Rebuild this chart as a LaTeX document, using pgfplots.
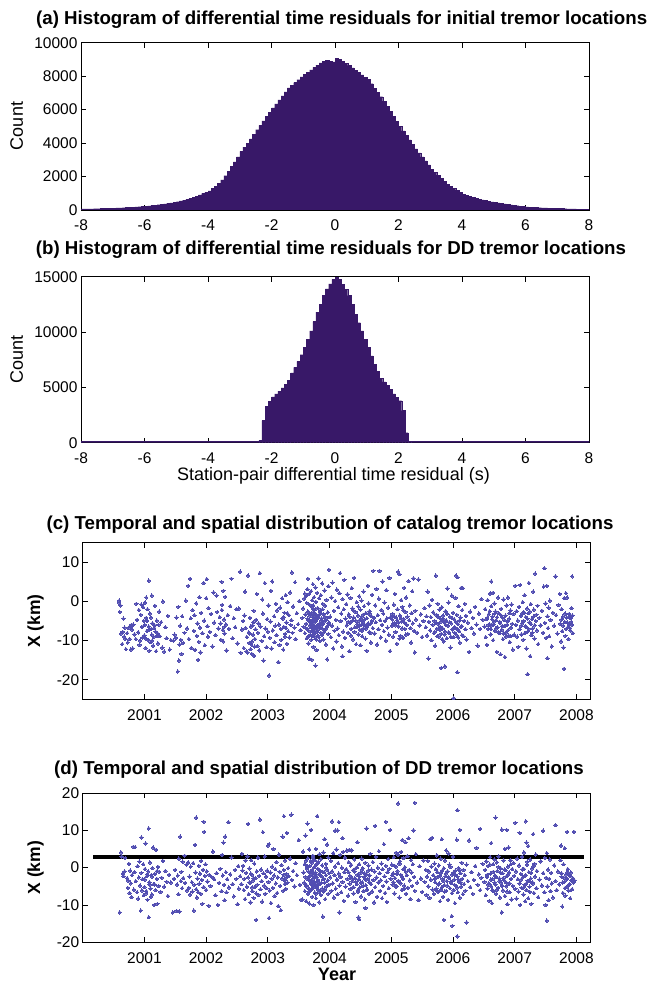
\documentclass[border=0pt]{standalone}
\usepackage{fontspec}
\setmainfont{Liberation Sans}
\usepackage{pgfplots}
\pgfplotsset{compat=1.18}
\definecolor{histcol}{RGB}{56,24,104}
\definecolor{dotcol}{RGB}{82,78,178}
\pgfplotsset{
  myax/.style={scale only axis, anchor=south west,
    axis line style={line width=0.9pt, black},
    every tick/.style={line width=0.8pt, black},
    tick align=inside, major tick length=5pt,
    /pgf/number format/assume math mode=true,
    /pgf/number format/1000 sep={},
    scaled ticks=false,
    ticklabel style={font=\fontsize{15.5}{18}\selectfont},
    xticklabel style={yshift=-6.5pt},
    clip=true},
  dots/.style={color=dotcol, only marks, mark=*, mark size=1.7pt, mark options={solid, draw=dotcol, fill=dotcol, line width=0pt}},
}
\begin{document}
\begin{tikzpicture}
\useasboundingbox (0pt,0pt) rectangle (650pt,985pt);
% ---------------- (a)
\begin{axis}[myax, at={(81pt,775pt)}, width=508pt, height=167.3pt,
  xmin=-8, xmax=8, ymin=0, ymax=10000,
  xtick={-8,-6,...,8}, ytick={0,2000,...,10000}]
\addplot[ybar interval, fill=histcol, draw=histcol, line width=0.2pt] coordinates {
(-8.0,60) (-7.9,62) (-7.8,65) (-7.7,70) (-7.6,75) (-7.5,80) (-7.4,85) (-7.3,92) (-7.2,98) (-7.1,104)
(-7.0,110) (-6.9,120) (-6.8,130) (-6.7,140) (-6.6,150) (-6.5,160) (-6.4,172) (-6.3,186) (-6.2,200) (-6.1,215)
(-6.0,230) (-5.9,250) (-5.8,272) (-5.7,295) (-5.6,318) (-5.5,340) (-5.4,370) (-5.3,400) (-5.2,432) (-5.1,465)
(-5.0,500) (-4.9,545) (-4.8,595) (-4.7,645) (-4.6,700) (-4.5,760) (-4.4,830) (-4.3,910) (-4.2,990) (-4.1,1070)
(-4.0,1150) (-3.9,1280) (-3.8,1420) (-3.7,1580) (-3.6,1800) (-3.5,2050) (-3.4,2330) (-3.3,2600) (-3.2,2880) (-3.1,3180)
(-3.0,3500) (-2.9,3760) (-2.8,4000) (-2.7,4250) (-2.6,4520) (-2.5,4800) (-2.4,5060) (-2.3,5330) (-2.2,5590) (-2.1,5850)
(-2.0,6100) (-1.9,6340) (-1.8,6580) (-1.7,6820) (-1.6,7060) (-1.5,7300) (-1.4,7460) (-1.3,7620) (-1.2,7790) (-1.1,7950)
(-1.0,8100) (-0.9,8240) (-0.8,8380) (-0.7,8520) (-0.6,8660) (-0.5,8800) (-0.4,8880) (-0.3,8950) (-0.2,8900) (-0.1,8850)
(0.0,9050) (0.1,9000) (0.2,8900) (0.3,8780) (0.4,8640) (0.5,8500) (0.6,8360) (0.7,8220) (0.8,8080) (0.9,7940)
(1.0,7800) (1.1,7550) (1.2,7290) (1.3,7030) (1.4,6770) (1.5,6500) (1.6,6200) (1.7,5900) (1.8,5600) (1.9,5300)
(2.0,5000) (2.1,4730) (2.2,4460) (2.3,4190) (2.4,3920) (2.5,3650) (2.6,3410) (2.7,3170) (2.8,2930) (2.9,2690)
(3.0,2450) (3.1,2270) (3.2,2090) (3.3,1910) (3.4,1730) (3.5,1550) (3.6,1430) (3.7,1310) (3.8,1190) (3.9,1070)
(4.0,950) (4.1,890) (4.2,830) (4.3,770) (4.4,710) (4.5,650) (4.6,610) (4.7,570) (4.8,530) (4.9,490)
(5.0,450) (5.1,420) (5.2,390) (5.3,360) (5.4,330) (5.5,300) (5.6,278) (5.7,256) (5.8,234) (5.9,212)
(6.0,190) (6.1,178) (6.2,166) (6.3,154) (6.4,142) (6.5,130) (6.6,122) (6.7,114) (6.8,106) (6.9,98)
(7.0,90) (7.1,84) (7.2,78) (7.3,72) (7.4,66) (7.5,60) (7.6,56) (7.7,52) (7.8,48) (7.9,44) (8.0,44)};
\end{axis}
% ---------------- (b)
\begin{axis}[myax, at={(81pt,542.3pt)}, width=508pt, height=166pt,
  xmin=-8, xmax=8, ymin=0, ymax=15000,
  xtick={-8,-6,...,8}, ytick={0,5000,10000,15000}]
\addplot[ybar interval, fill=histcol, draw=histcol, line width=0.2pt] coordinates {
(-8.0,100) (-2.4,200) (-2.3,2000) (-2.2,3300) (-2.1,3750)
(-2.0,4150) (-1.9,4400) (-1.8,4650) (-1.7,4950) (-1.6,5250) (-1.5,5650) (-1.4,6300) (-1.3,6800) (-1.2,7350) (-1.1,7950)
(-1.0,8600) (-0.9,9350) (-0.8,10100) (-0.7,10950) (-0.6,11800) (-0.5,12500) (-0.4,13300) (-0.3,13900) (-0.2,14350) (-0.1,14750)
(0.0,14950) (0.1,14750) (0.2,14300) (0.3,13850) (0.4,13300) (0.5,12500) (0.6,11600) (0.7,10850) (0.8,10100) (0.9,9350)
(1.0,8600) (1.1,7850) (1.2,7100) (1.3,6450) (1.4,5800) (1.5,5500) (1.6,5200) (1.7,4800) (1.8,4400) (1.9,4100)
(2.0,3800) (2.1,2900) (2.2,900) (2.3,150) (2.4,100) (8.0,100)};
\end{axis}
% ---------------- (c)
\begin{axis}[myax, at={(82.7pt,285.7pt)}, width=507.3pt, height=156.6pt,
  xmin=2000.0, xmax=2008.22, ymin=-25, ymax=15,
  xtick={2001,...,2008}, ytick={-20,-10,0,10}]
\addplot[dots] coordinates {
(2000.59,0.2) (2000.59,-0.3) (2000.60,-2.7) (2000.62,-8.2) (2000.64,-10.9) (2000.66,-4.4) (2000.67,-9.0) (2000.68,-6.7) (2000.69,-9.5) (2000.70,-12.2) (2000.61,-1.0) (2000.65,-7.8)
(2000.72,-8.1) (2000.73,-10.5) (2000.74,-6.8) (2000.76,-9.6) (2000.77,-6.3) (2000.78,-12.3) (2000.79,-6.0) (2000.80,-7.2) (2000.81,-12.0) (2000.82,-5.9) (2000.84,-8.4) (2000.86,-9.6) (2000.88,-4.7) (2000.90,-7.9) (2000.92,-11.1) (2000.93,-10.0) (2000.94,-3.4) (2000.95,-0.8) (2000.96,-6.5) (2000.97,-9.2) (2000.98,-1.5) (2000.99,-5.0) (2001.00,-8.7) (2001.01,-0.3) (2001.02,-11.9) (2001.03,-4.2) (2001.04,-7.6) (2001.05,-2.0) (2001.06,-9.8) (2001.07,5.3) (2001.07,-6.4) (2001.08,-12.6) (2001.09,-3.1) (2001.10,-10.4) (2001.11,-7.0) (2001.12,1.5) (2001.12,-8.5) (2001.13,-5.6) (2001.14,-11.3) (2001.15,-9.0) (2001.16,-6.8) (2001.17,-1.1) (2001.18,-7.7) (2001.19,-12.7) (2001.20,-4.9) (2001.21,-8.1) (2001.22,-10.7) (2001.23,-6.0) (2001.24,-2.6) (2001.25,-8.9) (2001.27,-5.3) (2001.29,-11.8) (2001.30,0.0) (2001.32,-12.8) (2001.34,-6.6) (2001.36,-9.4) (2001.38,-3.7) (2001.41,-12.3) (2001.43,-9.9) (2000.87,-0.6) (2000.91,-2.2) (2001.03,1.0)
(2001.47,-10.0) (2001.49,-8.5) (2001.51,-9.3) (2001.52,-4.1) (2001.54,-17.9) (2001.55,-1.4) (2001.56,-15.1) (2001.57,-11.0) (2001.58,-6.2) (2001.59,-9.8) (2001.60,-13.4) (2001.61,-3.8) (2001.63,-10.6) (2001.65,-8.0) (2001.67,0.2) (2001.69,-6.9)
(2001.71,4.0) (2001.72,-9.6) (2001.74,5.8) (2001.75,-4.3) (2001.76,-11.9) (2001.78,-2.2) (2001.80,-7.5) (2001.81,-3.5) (2001.82,-12.4) (2001.84,-0.5) (2001.85,-8.8) (2001.86,-5.6) (2001.87,-14.9) (2001.88,-10.3) (2001.89,1.1) (2001.90,-6.7) (2001.91,-13.0) (2001.92,-2.9) (2001.94,-8.1) (2001.96,4.7) (2001.97,-4.9) (2001.98,-11.2) (2002.00,0.8) (2002.01,5.7) (2002.02,-6.3) (2002.03,-9.0) (2002.04,-1.7) (2002.06,-7.8) (2002.08,-3.2) (2002.10,-11.5) (2002.12,2.3) (2002.13,-5.4) (2002.15,-8.6) (2002.17,1.5) (2002.18,-2.7) (2002.20,-6.9) (2002.22,-4.0) (2002.24,-9.8) (2002.25,5.0) (2002.26,-0.9) (2002.27,-7.3) (2002.28,2.7) (2002.29,-4.6) (2002.30,-8.2) (2002.31,1.2) (2002.32,-5.9) (2002.33,-12.5) (2002.35,-3.5) (2002.37,-7.0) (2002.39,-1.2) (2002.41,5.8) (2002.43,-9.4) (2002.45,-4.3) (2002.47,-6.6) (2002.49,-2.0)
(2002.51,-10.7) (2002.53,-1.8) (2002.55,7.6) (2002.56,-13.1) (2002.58,-7.2) (2002.60,-5.0) (2002.61,-11.9) (2002.62,-3.6) (2002.63,2.5) (2002.64,-6.8) (2002.65,-12.8) (2002.66,-9.1) (2002.67,-13.0) (2002.68,6.6) (2002.69,-7.9) (2002.70,-10.6) (2002.71,-4.2) (2002.72,-12.2) (2002.73,-11.0) (2002.74,-13.4) (2002.75,-6.1) (2002.76,-8.5) (2002.77,-2.4) (2002.78,-13.9) (2002.79,-9.6) (2002.80,-7.1) (2002.81,-4.7) (2002.82,1.9) (2002.83,-11.4) (2002.84,-8.0) (2002.85,-5.6) (2002.86,-12.5) (2002.87,7.2) (2002.88,-6.4) (2002.90,-10.1) (2002.91,0.5) (2002.92,-3.1) (2002.93,-15.1) (2002.94,-8.9) (2002.95,4.7) (2002.96,-6.9) (2002.98,-11.7) (2002.99,-4.5) (2003.00,-7.7) (2003.01,-1.0) (2003.02,-18.9) (2003.03,-9.3) (2003.04,-5.1) (2003.05,2.7) (2003.06,-12.0) (2003.07,5.1) (2003.08,-7.4) (2003.10,-3.8) (2003.11,-10.4) (2003.12,-6.2) (2003.13,-0.6) (2003.14,-8.6) (2003.15,-2.3) (2003.17,-15.5) (2003.18,-5.9) (2003.19,-11.1) (2003.20,-1.6) (2003.21,-7.0) (2003.22,-9.8) (2003.23,0.8) (2003.24,-4.4) (2003.25,-12.3) (2003.26,-6.5) (2003.27,-2.9) (2003.28,-8.3) (2003.29,1.6) (2003.30,-5.4) (2003.31,-10.8) (2003.32,-0.2) (2003.33,-7.6) (2003.34,-3.5) (2003.35,-9.2) (2003.36,2.3) (2003.37,-6.0) (2003.38,-4.8) (2003.39,7.4) (2003.40,-8.0) (2003.41,-1.3) (2003.43,-6.7) (2003.44,4.9) (2003.45,-9.6) (2003.47,-3.0) (2003.49,-5.8) (2003.51,0.1) (2003.53,-7.3)
(2003.56,-4.2) (2003.57,-1.8) (2003.58,-6.5) (2003.59,0.7) (2003.60,-8.1) (2003.60,2.0) (2003.61,-3.3) (2003.62,-5.7) (2003.62,1.4) (2003.63,-9.4) (2003.63,-0.4) (2003.64,3.1) (2003.64,-7.0) (2003.65,-2.6) (2003.65,5.8) (2003.66,-4.9) (2003.66,-10.7) (2003.67,-14.6) (2003.67,1.9) (2003.68,-6.1) (2003.68,-0.9) (2003.69,-3.7) (2003.69,-8.5) (2003.70,2.6) (2003.70,-5.3) (2003.71,-1.4) (2003.71,-14.9) (2003.72,0.3) (2003.72,-7.6) (2003.73,4.4) (2003.73,-4.0) (2003.74,-11.6) (2003.74,-2.1) (2003.75,1.1) (2003.75,-6.8) (2003.76,-3.0) (2003.76,-9.0) (2003.77,-16.4) (2003.77,3.6) (2003.78,-5.0) (2003.78,-0.1) (2003.79,-7.3) (2003.79,-12.4) (2003.80,2.2) (2003.80,-4.5) (2003.81,-8.7) (2003.81,-1.7) (2003.82,5.9) (2003.82,-6.0) (2003.83,-3.4) (2003.83,0.8) (2003.84,-10.1) (2003.84,-5.6) (2003.85,-2.3) (2003.86,-8.0) (2003.86,1.6) (2003.87,-4.3) (2003.88,-6.9) (2003.88,4.6) (2003.89,-0.6) (2003.90,-9.7) (2003.90,-3.2) (2003.91,-5.1) (2003.92,2.8) (2003.92,-7.4) (2003.93,-1.1) (2003.94,-11.0) (2003.94,-4.8) (2003.95,0.4) (2003.96,-6.4) (2003.96,-14.8) (2003.97,-2.8) (2003.98,3.9) (2003.98,-8.3) (2003.99,8.1) (2003.99,-5.4)
(2003.70,-6.6) (2003.72,-5.9) (2003.74,-7.1) (2003.76,-6.3) (2003.78,-4.0) (2003.80,-7.8) (2003.66,-7.5) (2003.68,-5.0) (2003.73,-8.9) (2003.75,-3.6)
(2004.01,-3.9) (2004.02,-9.1) (2004.03,1.0) (2004.04,-6.2) (2004.05,4.8) (2004.06,-12.0) (2004.07,-2.4) (2004.08,-7.5) (2004.09,0.1) (2004.10,-4.7) (2004.11,-10.2) (2004.12,3.0) (2004.13,-6.9) (2004.14,-1.5) (2004.15,-8.6) (2004.16,2.1) (2004.17,7.2) (2004.18,-5.0) (2004.19,-3.1) (2004.20,-11.5) (2004.21,-14.0) (2004.21,0.6) (2004.22,-7.7) (2004.23,-2.0) (2004.24,5.5) (2004.25,-9.3) (2004.26,-4.4) (2004.27,-0.7) (2004.28,-6.1) (2004.29,1.8) (2004.30,-8.0) (2004.31,-3.3) (2004.32,-12.7) (2004.33,-5.5) (2004.34,0.9) (2004.35,-7.0) (2004.36,3.4) (2004.37,-1.8) (2004.38,-9.7) (2004.39,-4.1) (2004.40,6.0) (2004.41,-6.6) (2004.42,-2.7) (2004.43,-10.9) (2004.44,-0.2) (2004.45,-5.8) (2004.46,-3.6) (2004.47,-8.4) (2004.48,1.3) (2004.48,-4.9) (2004.49,-7.2) (2004.50,-2.1) (2004.50,-11.2) (2004.51,-6.0) (2004.52,0.2) (2004.52,-3.9) (2004.53,-8.9) (2004.54,-5.2) (2004.55,2.5) (2004.55,-6.9) (2004.56,-1.2) (2004.57,-4.6) (2004.58,-9.5) (2004.59,-3.0) (2004.60,-12.6) (2004.61,-6.3) (2004.62,4.0) (2004.63,-0.5) (2004.64,-7.9) (2004.65,-2.5) (2004.66,-5.7) (2004.67,-10.5) (2004.68,-3.8) (2004.69,1.7) (2004.70,-6.8) (2004.71,7.8) (2004.72,-4.2) (2004.73,-8.2) (2004.74,-1.0) (2004.75,-5.3) (2004.76,3.2) (2004.77,-11.0) (2004.78,-3.5) (2004.79,-7.1) (2004.80,0.7) (2004.81,7.8) (2004.82,-4.8) (2004.83,-9.2) (2004.84,-2.2) (2004.85,-6.0) (2004.86,5.1) (2004.87,-3.1) (2004.88,-7.6) (2004.89,-0.3) (2004.90,-5.0) (2004.91,-10.0) (2004.92,2.9) (2004.93,-4.3) (2004.94,-6.7) (2004.95,-1.6) (2004.96,-8.5) (2004.97,6.0) (2004.98,-12.7) (2004.99,-4.0)
(2005.01,-6.2) (2005.02,-3.2) (2005.03,-9.0) (2005.04,-0.8) (2005.05,-5.5) (2005.06,1.9) (2005.07,-7.8) (2005.08,-4.1) (2005.09,-10.8) (2005.10,-2.0) (2005.11,7.6) (2005.12,-6.4) (2005.13,7.0) (2005.14,-3.6) (2005.15,-8.8) (2005.16,0.3) (2005.17,-5.1) (2005.18,-1.4) (2005.19,-9.3) (2005.20,-4.5) (2005.21,3.5) (2005.22,-7.0) (2005.23,-2.7) (2005.24,1.0) (2005.25,-6.0) (2005.26,-3.9) (2005.27,-8.3) (2005.28,5.2) (2005.29,-4.8) (2005.30,-1.0) (2005.31,-6.8) (2005.32,-10.5) (2005.33,-3.0) (2005.34,2.6) (2005.35,-5.6) (2005.36,5.9) (2005.37,-7.5) (2005.38,-13.0) (2005.39,-2.4) (2005.40,-4.6) (2005.42,-8.0) (2005.44,5.6) (2005.46,-6.1) (2005.48,-3.3) (2005.50,-9.1) (2005.52,-5.0) (2005.54,-1.7)
(2005.56,-6.6) (2005.57,-3.8) (2005.58,-8.7) (2005.59,2.5) (2005.60,-14.6) (2005.61,-5.2) (2005.62,-1.0) (2005.63,-7.4) (2005.64,-4.0) (2005.65,-9.9) (2005.66,0.4) (2005.67,-6.0) (2005.68,-2.8) (2005.69,-8.1) (2005.70,-5.0) (2005.71,-11.3) (2005.72,6.6) (2005.73,-3.4) (2005.74,-7.0) (2005.75,-0.6) (2005.76,-5.7) (2005.77,-9.0) (2005.78,-2.1) (2005.79,-6.5) (2005.80,-4.4) (2005.81,-17.0) (2005.81,-8.3) (2005.82,-1.5) (2005.83,-6.9) (2005.84,-3.6) (2005.85,-10.2) (2005.86,-5.3) (2005.87,-16.6) (2005.87,-7.7) (2005.88,-2.5) (2005.89,-4.8) (2005.90,-9.4) (2005.91,3.3) (2005.92,-6.2) (2005.93,-0.3) (2005.94,-8.0) (2005.95,-3.9) (2005.96,-11.8) (2005.97,-5.6) (2005.98,1.5) (2005.99,-7.2) (2006.00,-2.9) (2006.01,-24.7) (2006.01,-9.1) (2006.02,-4.6) (2006.03,-6.6) (2006.04,0.9) (2006.05,6.6) (2006.05,-8.4) (2006.06,-3.4) (2006.07,-18.1) (2006.07,6.2) (2006.08,-5.8) (2006.09,-1.2) (2006.10,-7.6) (2006.11,-10.5) (2006.12,-4.1) (2006.13,3.4) (2006.14,-6.3) (2006.15,-2.2) (2006.16,3.4) (2006.17,-8.9) (2006.18,-5.0) (2006.19,-0.6) (2006.20,-7.1) (2006.21,-3.7) (2006.22,-9.7) (2006.24,-5.4) (2006.26,-12.9) (2006.28,-2.6) (2006.30,-6.8) (2006.32,-4.2) (2006.34,-8.2) (2006.36,-1.4) (2006.38,-5.9) (2006.40,-11.3) (2006.42,-3.1) (2006.44,-7.0) (2006.46,0.6) (2006.48,-4.7)
(2006.51,-6.4) (2006.52,-2.0) (2006.53,-9.1) (2006.54,-4.5) (2006.55,-11.1) (2006.56,0.3) (2006.57,-7.0) (2006.58,-3.3) (2006.59,-5.8) (2006.60,2.0) (2006.61,-8.4) (2006.62,5.1) (2006.62,-1.2) (2006.63,-6.1) (2006.64,-3.9) (2006.65,2.2) (2006.65,-9.9) (2006.66,-5.2) (2006.67,-0.5) (2006.68,-7.5) (2006.69,-2.6) (2006.70,-4.8) (2006.71,-12.9) (2006.72,-6.6) (2006.73,1.0) (2006.74,-3.0) (2006.75,-8.1) (2006.76,-5.5) (2006.77,-13.5) (2006.78,-1.9) (2006.79,-7.2) (2006.80,-4.1) (2006.81,-9.6) (2006.82,0.5) (2006.83,-6.3) (2006.84,-14.2) (2006.85,-3.6) (2006.86,-7.9) (2006.87,-1.0) (2006.88,-5.1) (2006.89,1.0) (2006.90,-8.7) (2006.91,-4.4) (2006.92,-10.4) (2006.93,-2.3) (2006.94,-6.7) (2006.95,-0.8) (2006.96,-5.7) (2006.97,-12.3) (2006.98,-3.2) (2006.99,-8.5)
(2007.01,4.0) (2007.02,-6.0) (2007.03,-2.5) (2007.04,-9.0) (2007.05,-4.9) (2007.06,-11.6) (2007.07,-1.4) (2007.08,-7.1) (2007.09,4.2) (2007.10,-3.7) (2007.11,-8.4) (2007.12,-5.6) (2007.13,-0.2) (2007.14,-9.8) (2007.15,-2.8) (2007.16,1.6) (2007.17,-6.4) (2007.18,-4.0) (2007.19,-12.0) (2007.20,-1.8) (2007.21,-18.6) (2007.21,-7.7) (2007.22,-3.0) (2007.23,4.7) (2007.24,-5.3) (2007.25,-14.0) (2007.26,-0.7) (2007.27,-8.6) (2007.28,-4.5) (2007.29,-6.9) (2007.30,2.5) (2007.31,-2.1) (2007.32,-9.5) (2007.33,7.1) (2007.34,-5.0) (2007.35,-3.4) (2007.36,-7.4) (2007.37,-1.1) (2007.38,-10.9) (2007.40,-4.2) (2007.42,-6.1) (2007.44,-2.4) (2007.46,-8.0) (2007.47,3.8) (2007.48,8.5) (2007.49,-5.5) (2007.50,-0.5) (2007.51,-9.3) (2007.52,4.0) (2007.53,-14.5) (2007.53,-3.8) (2007.54,-6.8) (2007.55,-1.6) (2007.56,-8.9) (2007.57,0.2) (2007.58,-4.7) (2007.60,-11.5) (2007.62,-2.9) (2007.64,-6.2) (2007.66,6.4) (2007.67,-3.5) (2007.69,-8.2) (2007.71,-0.9) (2007.73,1.9) (2007.74,-5.7) (2007.75,-10.2) (2007.76,-2.0) (2007.77,-7.6) (2007.78,-3.9) (2007.79,-11.8) (2007.80,-17.2) (2007.80,0.8) (2007.81,-5.2) (2007.82,-8.8) (2007.83,2.1) (2007.84,-4.1) (2007.85,1.0) (2007.86,-6.6) (2007.87,-9.6) (2007.88,-3.2) (2007.89,-5.9) (2007.90,-7.4) (2007.91,-4.3) (2007.92,-1.7) (2007.93,6.4) (2007.93,-6.0) (2007.94,-8.1)
};
\addplot[dots] coordinates {
(2003.615,-6.8) (2003.645,-4.4) (2003.655,-8.9) (2003.675,-3.1) (2003.695,-5.9) (2003.705,-9.8) (2003.715,-2.9) (2003.725,-4.7) (2003.735,-1.0) (2003.745,-5.4) (2003.755,-8.2) (2003.765,-4.6) (2003.775,-1.9) (2003.785,-9.7) (2003.795,-3.8) (2003.805,-6.7) (2003.815,-4.1) (2003.825,-9.1) (2003.835,-7.0) (2003.845,-2.7) (2003.855,-6.2) (2003.865,-4.9) (2003.875,-8.6) (2003.885,-2.0) (2003.895,-5.8) (2003.905,-7.9) (2003.925,-3.9) (2003.945,-6.9) (2003.965,-4.2) (2003.985,-5.7)
(2004.305,-5.2) (2004.325,-3.9) (2004.345,-8.7) (2004.365,-5.0) (2004.385,-2.3) (2004.405,-7.8) (2004.425,-4.9) (2004.445,-6.5) (2004.465,-1.3) (2004.485,-6.2) (2004.505,-4.5) (2004.525,-7.5) (2004.545,-3.4) (2004.565,-5.9) (2004.585,-7.0) (2004.605,-4.3) (2004.625,-5.6) (2004.645,-3.2) (2004.665,-8.0) (2004.685,-5.0)
(2005.015,-4.6) (2005.035,-5.9) (2005.055,-3.9) (2005.075,-6.1) (2005.095,-4.8) (2005.115,-5.3) (2005.135,-9.5) (2005.155,-4.3) (2005.175,-6.9) (2005.195,-2.2) (2005.215,-5.4) (2005.235,-8.5)
(2005.705,-7.8) (2005.725,-5.5) (2005.745,-8.9) (2005.765,-4.0) (2005.785,-7.3) (2005.805,-5.1) (2005.825,-9.6) (2005.845,-4.5) (2005.865,-8.4) (2005.885,-6.0) (2005.905,-3.2) (2005.925,-7.9) (2005.945,-5.3) (2005.965,-9.0) (2005.985,-4.3) (2006.005,-6.9) (2006.025,-8.0) (2006.045,-5.2) (2006.065,-7.0) (2006.085,-9.2) (2006.105,-4.9) (2006.125,-6.5) (2006.145,-8.6)
(2006.555,-4.2) (2006.575,-6.0) (2006.595,-2.5) (2006.615,-7.1) (2006.635,-4.6) (2006.655,-5.9) (2006.675,-3.1) (2006.695,-6.9) (2006.715,-4.0) (2006.735,-7.8) (2006.755,-5.2) (2006.775,-3.5) (2006.795,-6.3) (2006.815,-8.2) (2006.835,-4.8) (2006.855,-9.0) (2006.875,-6.0) (2006.895,-7.3) (2006.915,-3.0) (2006.935,-8.9)
(2007.105,-6.2) (2007.125,-3.0) (2007.145,-5.0) (2007.165,-8.1) (2007.185,-6.5) (2007.205,-4.4) (2007.225,-7.0) (2007.245,-2.6) (2007.265,-5.8) (2007.285,-8.0) (2007.305,-3.9) (2007.325,-6.1)
(2007.755,-4.7) (2007.785,-6.2) (2007.815,-3.1) (2007.835,-7.0) (2007.855,-5.4) (2007.875,-4.0) (2007.895,-6.8) (2007.915,-5.2) (2007.935,-3.6)
(2001.005,-6.0) (2001.025,-9.5) (2001.045,-5.0) (2001.085,-7.2) (2001.105,-4.1) (2001.125,-10.0) (2001.165,-6.1) (2001.205,-8.8)
(2002.235,-5.6) (2002.255,-2.2) (2002.275,-10.2) (2002.295,-6.5)
(2002.705,-8.2) (2002.725,-6.4) (2002.745,-10.2) (2002.765,-5.3) (2002.785,-11.5) (2003.255,-4.0) (2003.275,-9.0) (2003.295,-6.8) (2003.315,-3.0)
};
\end{axis}
% ---------------- (d)
\begin{axis}[myax, at={(82.7pt,42.7pt)}, width=507.3pt, height=149.3pt,
  xmin=2000.0, xmax=2008.22, ymin=-20, ymax=20,
  xtick={2001,...,2008}, ytick={-20,-10,0,10,20}]
\addplot[dots] coordinates {
(2000.60,-12.0) (2000.62,4.1) (2000.63,3.0) (2000.65,-1.6) (2000.66,-2.3) (2000.68,-1.0) (2000.69,2.6)
(2000.72,-2.8) (2000.73,-5.4) (2000.74,-3.5) (2000.75,1.0) (2000.76,-6.8) (2000.77,-0.8) (2000.78,-4.2) (2000.79,-7.9) (2000.80,-2.0) (2000.82,5.6) (2000.83,-5.9) (2000.84,-1.2) (2000.85,5.5) (2000.86,-3.6) (2000.88,-6.6) (2000.89,0.4) (2000.90,-8.3) (2000.91,-2.6) (2000.92,1.6) (2000.93,-4.8) (2000.94,-11.5) (2000.95,8.1) (2000.95,-1.4) (2000.96,-6.1) (2000.97,-3.1) (2000.98,0.9) (2000.99,-7.4) (2001.00,-5.2) (2001.01,-0.4) (2001.02,6.5) (2001.03,-6.3) (2001.04,-2.3) (2001.05,-8.6) (2001.06,-1.0) (2001.07,10.5) (2001.07,-13.3) (2001.08,-3.9) (2001.09,1.4) (2001.10,-5.6) (2001.11,-2.0) (2001.12,-7.2) (2001.13,-0.1) (2001.14,5.4) (2001.15,-4.4) (2001.16,-10.0) (2001.17,-1.7) (2001.18,-6.0) (2001.19,4.8) (2001.20,-3.0) (2001.21,-9.7) (2001.22,0.2) (2001.23,-4.9) (2001.24,-1.1) (2001.26,-6.5) (2001.28,-2.7) (2001.30,1.8) (2001.32,-5.1) (2001.34,-0.9) (2001.36,-3.8) (2001.38,-7.6) (2001.40,-1.9) (2001.43,-4.0)
(2001.46,-12.0) (2001.48,-3.0) (2001.50,-0.6) (2001.52,-11.6) (2001.53,-4.5) (2001.54,-2.1) (2001.55,-7.1) (2001.56,2.4) (2001.57,-11.8) (2001.58,8.3) (2001.59,-3.6) (2001.60,-1.1) (2001.61,-5.5) (2001.62,1.6) (2001.63,-2.8) (2001.65,3.2) (2001.66,-4.1) (2001.68,0.8) (2001.69,-6.1)
(2001.71,1.4) (2001.72,-5.4) (2001.73,-2.4) (2001.74,-7.2) (2001.75,0.3) (2001.77,-3.9) (2001.78,-6.4) (2001.79,1.2) (2001.80,-11.5) (2001.81,-4.6) (2001.82,6.1) (2001.83,-1.3) (2001.84,13.4) (2001.84,-5.8) (2001.85,-8.0) (2001.86,-2.9) (2001.87,-6.6) (2001.88,0.5) (2001.89,-4.3) (2001.90,-1.6) (2001.91,-7.0) (2001.92,1.8) (2001.93,-3.3) (2001.94,-9.7) (2001.95,-0.6) (2001.96,12.3) (2001.96,-5.2) (2001.97,9.6) (2001.98,-2.2) (2001.99,0.9) (2002.00,-6.0) (2002.01,-1.0) (2002.02,-3.7) (2002.04,-10.2) (2002.05,-1.9) (2002.07,-4.9) (2002.09,-2.5) (2002.11,4.3) (2002.13,-3.1) (2002.15,-7.4) (2002.17,-1.5) (2002.19,-10.0) (2002.21,-4.1) (2002.23,-0.3) (2002.25,-6.3) (2002.26,3.4) (2002.27,-2.1) (2002.28,6.7) (2002.29,-4.6) (2002.30,-8.7) (2002.31,8.3) (2002.32,-1.2) (2002.33,-6.6) (2002.34,-3.1) (2002.36,12.2) (2002.37,-5.3) (2002.39,-1.8) (2002.41,2.7) (2002.43,-4.4) (2002.45,-7.7) (2002.47,-0.6) (2002.49,-3.0)
(2002.51,-9.8) (2002.52,0.4) (2002.53,-5.6) (2002.55,-2.3) (2002.57,-4.4) (2002.58,3.7) (2002.59,-0.8) (2002.60,0.5) (2002.61,-6.0) (2002.62,-3.0) (2002.63,-8.4) (2002.64,1.9) (2002.65,-1.4) (2002.66,-5.1) (2002.67,3.0) (2002.68,11.7) (2002.68,-2.6) (2002.69,-7.1) (2002.70,-0.2) (2002.71,-4.0) (2002.72,-9.3) (2002.73,2.0) (2002.74,-1.9) (2002.75,-6.3) (2002.76,-3.4) (2002.77,-8.1) (2002.78,1.1) (2002.79,-5.2) (2002.80,-2.8) (2002.81,-14.0) (2002.81,-6.9) (2002.82,-1.0) (2002.83,-4.6) (2002.84,2.7) (2002.85,-7.3) (2002.86,-2.2) (2002.87,12.9) (2002.88,-5.8) (2002.89,-0.5) (2002.90,-3.6) (2002.91,-9.1) (2002.92,9.5) (2002.93,-1.5) (2002.94,-4.8) (2002.95,3.0) (2002.96,-7.0) (2002.97,-2.4) (2002.98,-5.5) (2002.99,-0.8) (2003.00,5.9) (2003.01,-3.8) (2003.02,-13.5) (2003.02,6.3) (2003.03,-6.1) (2003.04,-1.3) (2003.05,-9.5) (2003.06,-3.0) (2003.07,0.3) (2003.08,-5.4) (2003.09,5.0) (2003.10,-2.1) (2003.11,-7.6) (2003.12,-0.4) (2003.13,-4.2) (2003.14,1.5) (2003.15,-6.8) (2003.16,-2.6) (2003.17,-10.3) (2003.18,3.5) (2003.19,-1.1) (2003.20,-4.9) (2003.21,-11.4) (2003.22,0.7) (2003.23,-2.9) (2003.24,8.3) (2003.25,-6.2) (2003.26,13.8) (2003.26,-0.6) (2003.27,-3.5) (2003.28,1.9) (2003.29,-5.7) (2003.30,-1.7) (2003.31,9.3) (2003.32,-4.0) (2003.33,-0.1) (2003.34,-2.3) (2003.36,2.4) (2003.38,14.2) (2003.39,-3.3) (2003.41,-0.9) (2003.43,-5.0) (2003.45,1.2) (2003.47,-2.0) (2003.50,7.4) (2003.52,-4.6) (2003.54,-8.6)
(2003.56,-8.5) (2003.57,4.3) (2003.58,-1.3) (2003.59,-4.0) (2003.60,0.9) (2003.60,-6.3) (2003.61,8.6) (2003.61,-2.5) (2003.62,-9.0) (2003.62,1.9) (2003.63,-4.8) (2003.63,-0.2) (2003.64,11.8) (2003.64,-3.0) (2003.65,-7.0) (2003.65,2.5) (2003.66,-1.0) (2003.66,-5.5) (2003.67,4.9) (2003.67,-9.6) (2003.68,-2.2) (2003.68,0.5) (2003.69,-6.1) (2003.69,-3.6) (2003.70,10.1) (2003.70,-1.6) (2003.71,-4.5) (2003.71,1.3) (2003.72,-7.8) (2003.72,-0.6) (2003.73,3.2) (2003.73,-2.9) (2003.74,-5.2) (2003.74,-10.0) (2003.75,0.1) (2003.75,-3.9) (2003.76,2.0) (2003.76,-6.7) (2003.77,-1.3) (2003.77,-4.1) (2003.78,5.0) (2003.78,-8.2) (2003.79,-2.6) (2003.79,0.8) (2003.80,13.8) (2003.80,-5.0) (2003.81,-0.3) (2003.81,-3.3) (2003.82,1.6) (2003.82,-6.0) (2003.83,-9.3) (2003.83,-1.8) (2003.84,3.6) (2003.84,-4.4) (2003.85,-0.9) (2003.86,-7.3) (2003.86,2.3) (2003.87,-2.3) (2003.88,-5.6) (2003.88,0.6) (2003.89,-13.1) (2003.89,-3.1) (2003.90,4.1) (2003.90,-6.4) (2003.91,-1.2) (2003.92,-4.0) (2003.92,7.6) (2003.93,-8.4) (2003.94,-2.0) (2003.94,1.0) (2003.95,-5.0) (2003.96,-0.5) (2003.96,6.2) (2003.97,-3.4) (2003.98,-7.0) (2003.98,2.7) (2003.99,-1.5) (2003.99,-4.6)
(2004.01,-2.6) (2004.02,1.8) (2004.03,-6.2) (2004.04,12.4) (2004.04,-1.0) (2004.05,-4.2) (2004.06,3.9) (2004.07,-8.0) (2004.08,-2.0) (2004.09,9.9) (2004.09,0.3) (2004.10,-5.6) (2004.11,4.9) (2004.12,-3.2) (2004.13,10.0) (2004.13,-7.1) (2004.14,1.2) (2004.15,12.2) (2004.15,-1.6) (2004.16,-12.0) (2004.16,-4.8) (2004.17,3.4) (2004.18,-2.5) (2004.19,-6.6) (2004.20,0.0) (2004.21,7.9) (2004.21,-3.8) (2004.22,4.2) (2004.23,-8.9) (2004.24,-1.2) (2004.25,2.7) (2004.26,-5.1) (2004.27,-0.4) (2004.28,4.6) (2004.29,-3.0) (2004.30,-7.5) (2004.31,1.5) (2004.32,4.8) (2004.33,-2.2) (2004.34,-5.7) (2004.35,0.7) (2004.36,4.6) (2004.37,-3.6) (2004.38,-0.7) (2004.39,-6.9) (2004.40,2.2) (2004.41,-2.8) (2004.42,-9.2) (2004.43,-0.1) (2004.44,-4.4) (2004.45,6.8) (2004.45,-1.9) (2004.46,-6.0) (2004.47,-13.3) (2004.47,-3.2) (2004.48,-13.8) (2004.48,0.9) (2004.49,-5.3) (2004.50,-1.4) (2004.51,-7.7) (2004.52,2.4) (2004.53,-3.9) (2004.54,-0.2) (2004.55,-6.3) (2004.56,-2.5) (2004.57,-8.5) (2004.58,-10.8) (2004.58,1.3) (2004.59,-4.7) (2004.60,10.5) (2004.60,-1.8) (2004.61,-5.9) (2004.62,-3.0) (2004.63,0.6) (2004.64,-7.0) (2004.65,-2.1) (2004.66,3.7) (2004.67,-4.4) (2004.68,-0.5) (2004.69,-6.4) (2004.70,1.5) (2004.71,-3.3) (2004.72,-9.3) (2004.73,-1.0) (2004.74,11.2) (2004.74,-5.2) (2004.75,2.9) (2004.76,-2.6) (2004.77,-7.8) (2004.78,0.0) (2004.79,-4.0) (2004.80,4.4) (2004.81,-1.5) (2004.82,-6.2) (2004.83,-3.4) (2004.84,1.1) (2004.85,-8.2) (2004.86,-0.4) (2004.87,-4.9) (2004.88,6.3) (2004.89,-2.3) (2004.90,-6.8) (2004.91,12.3) (2004.91,0.5) (2004.92,-3.7) (2004.93,-9.2) (2004.94,-1.2) (2004.95,2.3) (2004.96,-5.5) (2004.97,-0.3) (2004.98,10.1) (2004.99,-3.0)
(2005.01,0.8) (2005.02,-4.6) (2005.03,-1.5) (2005.04,2.8) (2005.05,-6.9) (2005.06,-2.8) (2005.07,0.2) (2005.08,4.0) (2005.09,-5.0) (2005.10,-0.9) (2005.11,17.2) (2005.11,3.5) (2005.12,-3.7) (2005.13,-8.0) (2005.14,1.7) (2005.15,-1.9) (2005.16,4.2) (2005.17,-6.0) (2005.18,7.4) (2005.19,-3.0) (2005.20,2.6) (2005.21,-4.8) (2005.22,0.1) (2005.23,6.8) (2005.24,-7.0) (2005.25,-2.0) (2005.26,3.1) (2005.27,-5.4) (2005.28,7.9) (2005.29,-0.6) (2005.30,-3.4) (2005.31,-8.4) (2005.32,2.0) (2005.33,-1.3) (2005.34,-4.9) (2005.35,0.9) (2005.36,10.0) (2005.37,-2.5) (2005.38,17.4) (2005.38,-6.2) (2005.40,3.6) (2005.42,-4.0) (2005.44,-8.7) (2005.46,0.4) (2005.48,-2.9) (2005.50,-6.5) (2005.52,1.9) (2005.54,-3.8)
(2005.56,-0.6) (2005.57,-7.3) (2005.58,-2.4) (2005.59,1.8) (2005.60,-5.0) (2005.61,-1.0) (2005.62,-8.1) (2005.63,7.6) (2005.64,-3.2) (2005.65,0.3) (2005.66,8.0) (2005.67,-5.9) (2005.68,-2.0) (2005.69,-7.0) (2005.70,1.1) (2005.71,-3.9) (2005.72,-0.4) (2005.73,-5.6) (2005.74,3.3) (2005.75,-2.5) (2005.76,-6.5) (2005.77,0.6) (2005.78,-4.3) (2005.79,-9.0) (2005.80,2.4) (2005.81,-1.4) (2005.82,7.6) (2005.82,-5.2) (2005.83,-3.0) (2005.84,-7.8) (2005.85,-14.0) (2005.85,-0.2) (2005.86,-4.7) (2005.87,1.9) (2005.88,-2.3) (2005.89,4.6) (2005.89,-6.2) (2005.90,-3.6) (2005.91,-1.0) (2005.92,-8.6) (2005.93,3.8) (2005.94,-2.8) (2005.95,-5.5) (2005.96,0.2) (2005.97,-4.0) (2005.98,-13.0) (2005.99,-15.6) (2005.99,-1.9) (2006.00,2.9) (2006.01,-6.0) (2006.02,-3.2) (2006.03,-9.5) (2006.04,-0.8) (2006.05,-4.9) (2006.06,7.5) (2006.07,15.4) (2006.07,-18.4) (2006.07,-2.4) (2006.08,-6.6) (2006.09,-0.1) (2006.10,-3.8) (2006.11,10.1) (2006.11,-8.0) (2006.12,-1.5) (2006.13,-5.1) (2006.14,1.3) (2006.15,-3.0) (2006.16,-7.1) (2006.17,-0.6) (2006.18,-4.4) (2006.19,-2.0) (2006.20,-6.2) (2006.22,-14.7) (2006.22,0.8) (2006.24,-3.6) (2006.26,7.3) (2006.28,-5.2) (2006.30,-1.2) (2006.32,-7.0) (2006.34,-3.3) (2006.36,0.4) (2006.38,5.3) (2006.40,-4.6) (2006.42,-1.8) (2006.44,10.4) (2006.44,-6.0) (2006.46,-2.7) (2006.48,1.0)
(2006.51,-3.8) (2006.52,-0.6) (2006.53,-7.4) (2006.54,1.7) (2006.55,-2.5) (2006.56,-5.6) (2006.57,0.5) (2006.58,-4.2) (2006.59,-8.9) (2006.60,2.8) (2006.61,-1.6) (2006.62,6.6) (2006.62,-5.0) (2006.63,-9.5) (2006.64,-3.0) (2006.65,0.9) (2006.66,-6.3) (2006.67,2.2) (2006.68,-2.1) (2006.69,13.4) (2006.69,-4.5) (2006.70,-7.0) (2006.71,1.4) (2006.72,-0.9) (2006.73,-5.4) (2006.74,3.0) (2006.75,-2.9) (2006.76,-8.0) (2006.77,-0.2) (2006.78,-4.0) (2006.79,10.2) (2006.79,-12.0) (2006.80,-1.5) (2006.81,-6.1) (2006.82,1.9) (2006.83,-3.4) (2006.84,5.0) (2006.84,-7.6) (2006.85,-0.7) (2006.86,-5.0) (2006.87,10.1) (2006.87,-2.3) (2006.88,-9.8) (2006.89,0.3) (2006.90,5.4) (2006.90,-4.4) (2006.91,-1.3) (2006.92,-6.6) (2006.93,2.0) (2006.94,-3.0) (2006.95,-8.5) (2006.96,-0.4) (2006.97,-4.9) (2006.98,1.2) (2006.99,-2.2)
(2007.01,12.0) (2007.01,-5.7) (2007.02,-1.0) (2007.03,-8.3) (2007.04,2.4) (2007.05,-3.1) (2007.06,-6.4) (2007.07,0.6) (2007.08,9.3) (2007.08,-4.2) (2007.09,-10.0) (2007.10,-1.7) (2007.11,-5.4) (2007.12,2.9) (2007.13,-2.6) (2007.14,-7.2) (2007.15,4.1) (2007.15,-0.4) (2007.16,-4.6) (2007.17,-9.0) (2007.18,12.4) (2007.18,-2.0) (2007.19,6.7) (2007.19,-6.0) (2007.20,0.8) (2007.21,-3.5) (2007.22,5.8) (2007.22,-8.2) (2007.23,-1.2) (2007.24,-5.1) (2007.25,2.2) (2007.26,-2.9) (2007.27,-9.7) (2007.28,-0.2) (2007.29,-4.3) (2007.30,9.0) (2007.31,-6.8) (2007.32,1.0) (2007.33,-2.4) (2007.34,3.5) (2007.35,-5.5) (2007.36,-0.9) (2007.38,-7.9) (2007.40,-3.2) (2007.42,1.7) (2007.44,-4.8) (2007.46,9.9) (2007.46,-1.5) (2007.48,-6.6) (2007.49,2.6) (2007.50,-10.0) (2007.51,-2.7) (2007.52,-14.2) (2007.52,3.9) (2007.53,-5.0) (2007.54,-0.5) (2007.55,-8.7) (2007.56,-3.0) (2007.57,2.2) (2007.58,-6.3) (2007.59,-1.4) (2007.60,-4.2) (2007.62,-8.0) (2007.64,0.6) (2007.66,11.4) (2007.66,-3.6) (2007.68,-6.0) (2007.70,-1.0) (2007.72,-4.5) (2007.74,2.0) (2007.75,5.9) (2007.76,-2.4) (2007.77,-10.4) (2007.78,-6.8) (2007.79,0.9) (2007.80,-3.9) (2007.81,5.2) (2007.82,-7.5) (2007.83,-1.8) (2007.84,-5.2) (2007.85,9.6) (2007.85,-3.0) (2007.86,-0.4) (2007.87,-6.1) (2007.88,-2.0) (2007.89,-4.4) (2007.90,-8.2) (2007.91,-1.3) (2007.92,-3.4) (2007.93,-5.8) (2007.94,-2.8) (2007.95,-4.0) (2007.96,9.6) (2007.97,-3.5)
};
\addplot[dots] coordinates {
(2003.615,-4.9) (2003.635,0.3) (2003.655,-2.9) (2003.675,-6.3) (2003.695,1.8) (2003.705,-4.2) (2003.715,-0.9) (2003.725,-5.6) (2003.735,2.6) (2003.745,-1.8) (2003.755,-4.6) (2003.765,0.4) (2003.775,-7.0) (2003.785,-2.3) (2003.795,-5.4) (2003.805,1.2) (2003.815,-3.7) (2003.825,-0.6) (2003.835,-6.5) (2003.845,-2.0) (2003.865,-4.1) (2003.885,-1.1) (2003.905,-3.0) (2003.925,-5.9) (2003.945,0.0)
(2004.305,-1.2) (2004.325,-4.3) (2004.345,0.6) (2004.365,-2.9) (2004.385,-5.2) (2004.405,-1.0) (2004.425,-3.8) (2004.445,0.1) (2004.465,-6.5) (2004.485,-2.4) (2004.505,-4.0) (2004.525,-0.5) (2004.545,-4.9) (2004.565,-1.5) (2004.585,-3.3) (2004.605,-5.8) (2004.625,-0.8) (2004.645,-3.9)
(2005.015,-2.0) (2005.035,-3.9) (2005.055,0.5) (2005.075,-5.0) (2005.095,-1.7) (2005.115,-3.5) (2005.135,1.0) (2005.155,-4.2) (2005.175,-2.5) (2005.195,-0.4) (2005.215,-5.6) (2005.235,-1.1)
(2005.705,-3.0) (2005.725,-6.0) (2005.745,-1.2) (2005.765,-4.5) (2005.785,-2.2) (2005.805,-5.9) (2005.825,-0.8) (2005.845,-3.6) (2005.865,-6.4) (2005.885,-1.6) (2005.905,-4.8) (2005.925,-2.6) (2005.945,0.8) (2005.965,-3.8) (2005.985,-6.8) (2006.005,-1.4) (2006.025,-4.6) (2006.045,-2.0) (2006.065,-5.3) (2006.085,-3.1) (2006.105,-0.7) (2006.125,-4.0)
(2006.555,-1.9) (2006.575,-4.6) (2006.595,0.8) (2006.615,-3.2) (2006.635,-6.1) (2006.655,-1.1) (2006.675,-4.0) (2006.695,-2.5) (2006.715,-5.9) (2006.735,0.2) (2006.755,-3.6) (2006.775,-1.4) (2006.795,-4.9) (2006.815,-2.8) (2006.835,-0.5) (2006.855,-3.9) (2006.875,-6.4) (2006.895,-1.8) (2006.915,-4.2) (2006.935,0.9)
(2007.105,-3.2) (2007.125,-0.5) (2007.145,-5.3) (2007.165,-2.2) (2007.185,-4.3) (2007.205,1.6) (2007.225,-3.6) (2007.245,-6.5) (2007.265,-1.4) (2007.285,-3.9) (2007.305,0.4)
(2007.755,-1.5) (2007.775,-4.0) (2007.795,-2.7) (2007.815,-5.5) (2007.835,-3.2) (2007.855,-1.2) (2007.875,-4.6) (2007.895,-2.2) (2007.915,-6.0) (2007.935,-3.1)
(2001.005,-3.2) (2001.025,-6.9) (2001.045,-1.8) (2001.085,-4.6) (2001.105,-7.8) (2001.125,-2.4) (2001.165,-4.5) (2001.205,-0.9)
(2002.705,-3.9) (2002.725,-1.6) (2002.745,-5.3) (2002.765,-2.9) (2003.255,-1.9) (2003.275,-4.4) (2003.295,-2.7)
};
\addplot[black, line width=3.5pt] coordinates {(2000.17,2.85) (2008.13,2.85)};
\end{axis}
% ---------------- titles and labels
\node[anchor=base, font=\fontsize{18.7}{22}\selectfont\bfseries] at (341.7pt,960pt) {(a) Histogram of differential time residuals for initial tremor locations};
\node[anchor=base, font=\fontsize{18.7}{22}\selectfont\bfseries] at (331pt,730pt) {(b) Histogram of differential time residuals for DD tremor locations};
\node[anchor=base, font=\fontsize{18.7}{22}\selectfont\bfseries] at (330pt,455pt) {(c) Temporal and spatial distribution of catalog tremor locations};
\node[anchor=base, font=\fontsize{18.7}{22}\selectfont\bfseries] at (319pt,210pt) {(d) Temporal and spatial distribution of DD tremor locations};
\node[rotate=90, anchor=base, font=\fontsize{18}{21}\selectfont] at (23pt,859pt) {Count};
\node[rotate=90, anchor=base, font=\fontsize{18}{21}\selectfont] at (23pt,625.3pt) {Count};
\node[rotate=90, anchor=base, font=\fontsize{17.5}{21}\selectfont\bfseries] at (40pt,364pt) {X (km)};
\node[rotate=90, anchor=base, font=\fontsize{17.5}{21}\selectfont\bfseries] at (40pt,117.3pt) {X (km)};
\node[anchor=base, font=\fontsize{18}{21}\selectfont] at (333.4pt,504.2pt) {Station-pair differential time residual (s)};
\node[anchor=base, font=\fontsize{18}{21}\selectfont\bfseries] at (337pt,4.2pt) {Year};
\end{tikzpicture}
\end{document}
